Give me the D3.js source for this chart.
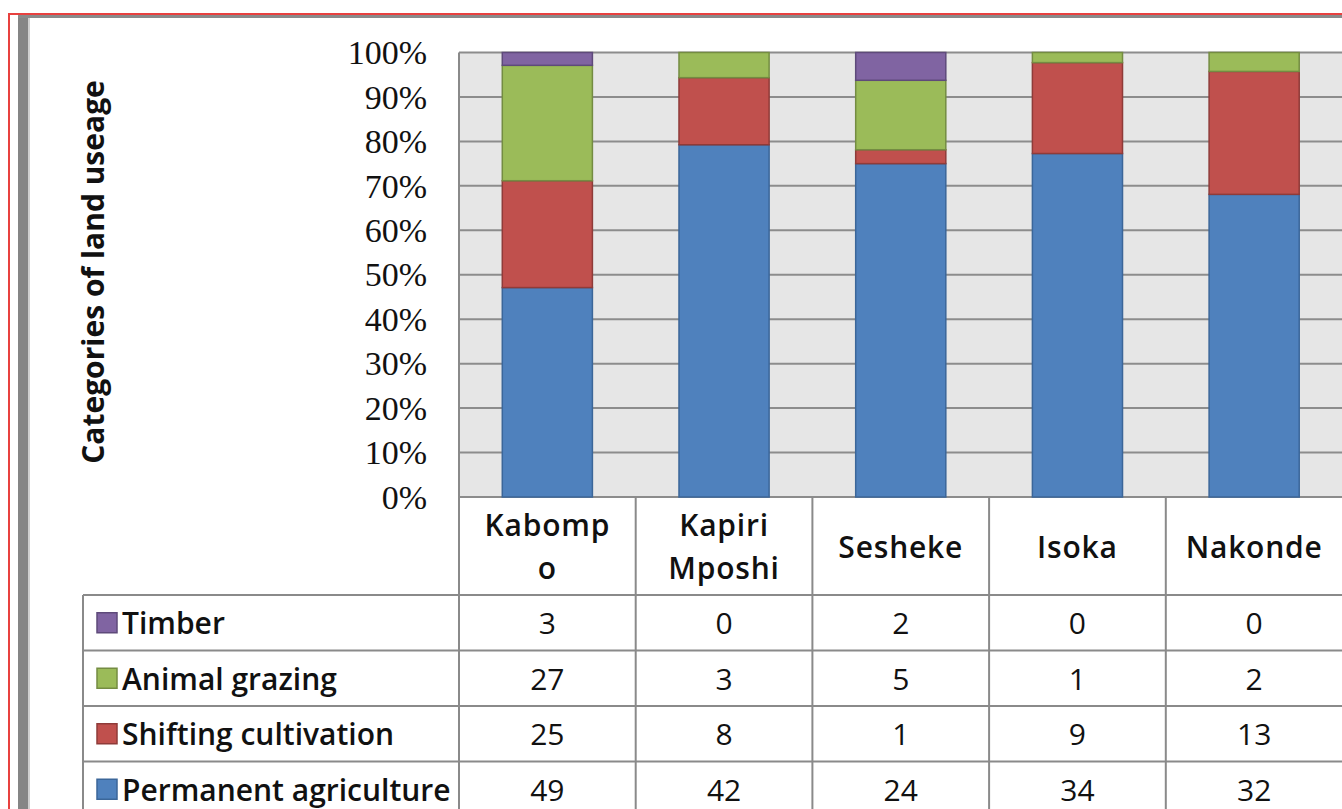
<!DOCTYPE html>
<html>
<head>
<meta charset="utf-8">
<script src="https://cdn.jsdelivr.net/npm/d3@7"></script>
<style>
  html, body { margin: 0; padding: 0; background: #fff; overflow: hidden; }
  svg { display: block; }
</style>
</head>
<body>
<svg id="chart" width="1342" height="809"></svg>
<script>
// Land use by district (counts of respondents)
const districts = ["Kabompo", "Kapiri Mposhi", "Sesheke", "Isoka", "Nakonde"];
const districtLines = [["Kabomp", "o"], ["Kapiri", "Mposhi"], ["Sesheke"], ["Isoka"], ["Nakonde"]];
const seriesNames = ["Permanent agriculture", "Shifting cultivation", "Animal grazing", "Timber"];
const permanentAgriculture = [49, 42, 24, 34, 32];
const shiftingCultivation = [25, 8, 1, 9, 13];
const animalGrazing = [27, 3, 5, 1, 2];
const timber = [3, 0, 2, 0, 0];
const yTicks = [0, 0.1, 0.2, 0.3, 0.4, 0.5, 0.6, 0.7, 0.8, 0.9, 1.0];

const seriesValues = [permanentAgriculture, shiftingCultivation, animalGrazing, timber];
const fills = ["#4f81bd", "#c0504d", "#9bbb59", "#8064a2"];
const strokes = ["#3b6699", "#8f3b39", "#748c42", "#5e4a7a"];

const svg = d3.select("#chart");

// outer frame
svg.append("rect").attr("x", 18).attr("y", 15).attr("width", 10).attr("height", 800).attr("fill", "#858585");
svg.append("line").attr("x1", 18).attr("x2", 1342).attr("y1", 16.5).attr("y2", 16.5)
  .attr("stroke", "#8a8a8a").attr("stroke-width", 3);
svg.append("line").attr("x1", 29).attr("x2", 29).attr("y1", 18).attr("y2", 809)
  .attr("stroke", "#cfcfcf").attr("stroke-width", 2);
svg.append("path").attr("d", "M9,809 V14 H1342").attr("fill", "none")
  .attr("stroke", "#e8413f").attr("stroke-width", 2);

// scales
const plotLeft = 459, plotRight = 1342.5, plotTop = 52.5, plotBottom = 497;
const xCol = d3.scaleBand().domain(districts).range([plotLeft, plotRight]).padding(0);
const xBar = d3.scaleBand().domain(districts).range([plotLeft, plotRight])
  .paddingInner(0.49).paddingOuter(0.245);
const y = d3.scaleLinear().domain([0, 1]).range([plotBottom, plotTop]);

// plot background
svg.append("rect").attr("x", plotLeft).attr("y", plotTop)
  .attr("width", plotRight - plotLeft).attr("height", plotBottom - plotTop)
  .attr("fill", "#e6e6e6");

// gridlines
svg.append("g").selectAll("line").data(yTicks).join("line")
  .attr("x1", plotLeft).attr("x2", plotRight)
  .attr("y1", d => y(d)).attr("y2", d => y(d))
  .attr("stroke", "#8c8c8c").attr("stroke-width", 2);

// y axis (labels only)
const yAxis = d3.axisLeft(y).tickValues(yTicks).tickFormat(d3.format(".0%")).tickSize(0).tickPadding(0);
const yAxisG = svg.append("g").attr("transform", `translate(427,0)`).call(yAxis);
yAxisG.select(".domain").remove();
yAxisG.selectAll("text")
  .attr("font-family", "'Liberation Serif', 'Times New Roman', serif")
  .attr("font-size", 34).attr("fill", "#111").attr("dy", "0.33em");

// stacked 100% bars
const rows = districts.map((d, i) => {
  const o = { district: d };
  seriesNames.forEach((s, k) => o[s] = seriesValues[k][i]);
  return o;
});
const stack = d3.stack().keys(seriesNames).offset(d3.stackOffsetExpand);
const layers = stack(rows);
svg.append("g").selectAll("g").data(layers).join("g")
  .attr("fill", (d, k) => fills[k]).attr("stroke", (d, k) => strokes[k]).attr("stroke-width", 1.5)
  .selectAll("rect").data(d => d.filter(p => p[1] - p[0] > 0)).join("rect")
  .attr("x", p => xBar(p.data.district))
  .attr("width", xBar.bandwidth())
  .attr("y", p => y(p[1]))
  .attr("height", p => y(p[0]) - y(p[1]));

// y axis title
svg.append("text")
  .attr("transform", "translate(92,272) rotate(-90)")
  .attr("text-anchor", "middle").attr("dominant-baseline", "central")
  .attr("font-family", "'Open Sans', sans-serif").attr("font-weight", 700).attr("font-size", 30)
  .attr("fill", "#111")
  .text("Categories of land useage");

// data table
const tableLeft = 83, headerBottom = 595, rowH = 55.5, tableBottom = 840;
const tableRows = [3, 2, 1, 0]; // series index per row, top to bottom
const grid = svg.append("g").attr("stroke", "#8a8a8a").attr("stroke-width", 2);
// vertical column borders
xCol.domain().forEach(d => {
  grid.append("line").attr("x1", xCol(d)).attr("x2", xCol(d)).attr("y1", plotBottom).attr("y2", tableBottom);
});
grid.append("line").attr("x1", plotLeft).attr("x2", plotLeft).attr("y1", plotTop).attr("y2", plotBottom);
grid.append("line").attr("x1", tableLeft).attr("x2", tableLeft).attr("y1", headerBottom).attr("y2", tableBottom);
// horizontal row borders
for (let r = 0; r <= 4; r++) {
  const yy = headerBottom + r * rowH;
  grid.append("line").attr("x1", tableLeft).attr("x2", plotRight).attr("y1", yy).attr("y2", yy);
}

const tableFont = "'Open Sans', sans-serif";
// header: district names
districtLines.forEach((lines, i) => {
  const cx = xCol(districts[i]) + xCol.bandwidth() / 2;
  const centers = lines.length === 1 ? [546] : [524, 567];
  lines.forEach((t, j) => {
    svg.append("text").attr("x", cx).attr("y", centers[j])
      .attr("text-anchor", "middle").attr("dominant-baseline", "central")
      .attr("font-family", tableFont).attr("font-weight", 600).attr("font-size", 30)
      .attr("letter-spacing", 0.8).attr("fill", "#111").text(t);
  });
});

// row legend keys, labels and values
tableRows.forEach((k, r) => {
  const cy = headerBottom + r * rowH + rowH / 2;
  svg.append("rect").attr("x", 97).attr("y", cy - 10).attr("width", 20).attr("height", 20)
    .attr("fill", fills[k]).attr("stroke", strokes[k]).attr("stroke-width", 1.5);
  svg.append("text").attr("x", 122).attr("y", cy)
    .attr("dominant-baseline", "central")
    .attr("font-family", tableFont).attr("font-weight", 600).attr("font-size", 30)
    .attr("fill", "#111").text(seriesNames[k]);
  districts.forEach((d, i) => {
    svg.append("text").attr("x", xCol(d) + xCol.bandwidth() / 2).attr("y", cy)
      .attr("text-anchor", "middle").attr("dominant-baseline", "central")
      .attr("font-family", tableFont).attr("font-weight", 500).attr("font-size", 30)
      .attr("fill", "#111").text(seriesValues[k][i]);
  });
});
</script>
</body>
</html>
